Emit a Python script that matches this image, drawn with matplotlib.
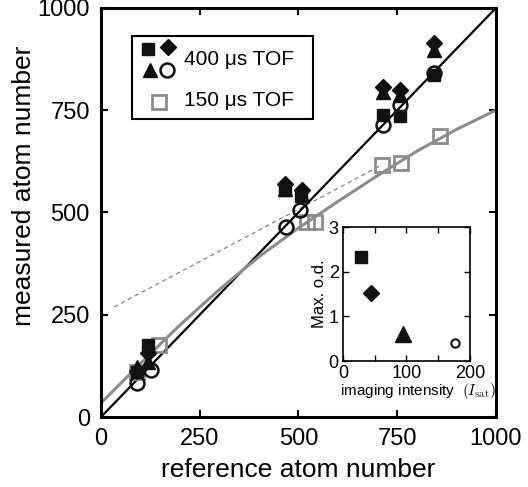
import matplotlib
matplotlib.use('Agg')
import matplotlib.pyplot as plt
from matplotlib.patches import Rectangle

plt.rcParams['font.family'] = ['Liberation Sans', 'DejaVu Sans']
plt.rcParams['mathtext.fontset'] = 'cm'

# 400 us TOF, one marker type per imaging intensity
sq_x = [91, 119, 466, 506, 714, 757, 843]
sq_y = [110, 176, 555, 540, 738, 735, 836]
tri_x = [91, 119, 466, 509, 714, 757, 843]
tri_y = [122, 135, 557, 542, 795, 788, 897]
dia_x = [91, 119, 466, 509, 714, 757, 843]
dia_y = [112, 156, 570, 555, 807, 800, 914]
circ_x = [91, 127, 468, 504, 714, 757, 843]
circ_y = [83, 115, 465, 506, 714, 763, 841]

# 150 us TOF
gsq_x = [91, 147, 521, 542, 711, 759, 858]
gsq_y = [110, 176, 477, 477, 616, 621, 687]

# fitted curve for 150 us data
fit_x = [0, 100, 200, 300, 400, 500, 600, 700, 800, 900, 1000]
fit_y = [34, 131, 225, 312, 392, 462, 527, 590, 650, 703, 750]

# dashed guide line
dash_x = [33, 711]
dash_y = [269, 616]

# inset: peak optical density vs imaging intensity
ins_int = [28, 44, 94, 176]
ins_od = [2.33, 1.52, 0.60, 0.40]

fig = plt.figure(figsize=(5.28, 4.87), dpi=100)
ax = fig.add_axes([0.1913, 0.1437, 0.748, 0.840])

ax.plot([0, 1000], [0, 1000], color='black', lw=1.6, zorder=2)
ax.plot(fit_x, fit_y, color='#8c8c8c', lw=2.2, zorder=2)
ax.plot(dash_x, dash_y, color='#777777', lw=0.8, ls=(0, (4, 3)), zorder=1)

ax.plot(gsq_x, gsq_y, ls='none', marker='s', ms=10, mfc='none', mec='#8c8c8c', mew=2, zorder=3)
ax.plot(sq_x, sq_y, ls='none', marker='s', ms=8, color='#111111', zorder=4)
ax.plot(tri_x, tri_y, ls='none', marker='^', ms=10, color='#111111', zorder=4)
ax.plot(dia_x, dia_y, ls='none', marker='D', ms=8, color='#111111', zorder=5)
ax.plot(circ_x, circ_y, ls='none', marker='o', ms=10, mfc='none', mec='#111111', mew=1.8, zorder=6)

ax.set_xlim(0, 1000)
ax.set_ylim(0, 1000)
ax.set_xticks([0, 250, 500, 750, 1000])
ax.set_yticks([0, 250, 500, 750, 1000])
ax.tick_params(direction='in', length=5, width=1.5, labelsize=17, top=True, right=True, pad=8)
for s in ax.spines.values():
    s.set_linewidth(2.2)
ax.set_xlabel('reference atom number', fontsize=19)
ax.set_ylabel('measured atom number', fontsize=19)
ax.xaxis.set_label_coords(0.5, -0.1)
ax.yaxis.set_label_coords(-0.165, 0.565)

# hand-made legend
ax.add_patch(Rectangle((0.078, 0.729), 0.459, 0.203, transform=ax.transAxes,
                       fill=True, facecolor='white', edgecolor='black', lw=1.5, zorder=7))
ax.plot([0.119], [0.900], transform=ax.transAxes, marker='s', ms=8, color='#111111', zorder=8)
ax.plot([0.170], [0.905], transform=ax.transAxes, marker='D', ms=8, color='#111111', zorder=8)
ax.plot([0.124], [0.848], transform=ax.transAxes, marker='^', ms=10, color='#111111', zorder=8)
ax.plot([0.167], [0.848], transform=ax.transAxes, marker='o', ms=10, mfc='none', mec='#111111', mew=1.8, zorder=8)
ax.plot([0.147], [0.770], transform=ax.transAxes, marker='s', ms=10, mfc='none', mec='#8c8c8c', mew=2, zorder=8)
ax.text(0.21, 0.873, '400 μs TOF', transform=ax.transAxes, fontsize=15, va='center', zorder=9)
ax.text(0.21, 0.773, '150 μs TOF', transform=ax.transAxes, fontsize=15, va='center', zorder=9)

# inset
ins = fig.add_axes([0.6496, 0.2587, 0.2405, 0.275])
ins.plot(ins_int[0], ins_od[0], marker='s', ms=8, color='#111111')
ins.plot(ins_int[1], ins_od[1], marker='D', ms=8, color='#111111')
ins.plot(ins_int[2], ins_od[2], marker='^', ms=11, color='#111111')
ins.plot(ins_int[3], ins_od[3], marker='o', ms=6, mfc='none', mec='#111111', mew=1.5)
ins.set_xlim(0, 200)
ins.set_ylim(0, 3)
ins.set_xticks([0, 50, 100, 150, 200])
ins.set_xticklabels(['0', '', '100', '', '200'])
ins.set_yticks([0, 1, 2, 3])
ins.tick_params(direction='in', length=4, width=1, labelsize=13, top=True, right=True, pad=3)
for s in ins.spines.values():
    s.set_linewidth(1.2)
ins.set_xlabel(r'imaging intensity  $(I_{\rm sat})$', fontsize=11)
ins.xaxis.set_label_coords(0.59, -0.15)
ins.set_ylabel('Max. o.d.', fontsize=12, labelpad=1)

fig.savefig('out.png', dpi=100)
